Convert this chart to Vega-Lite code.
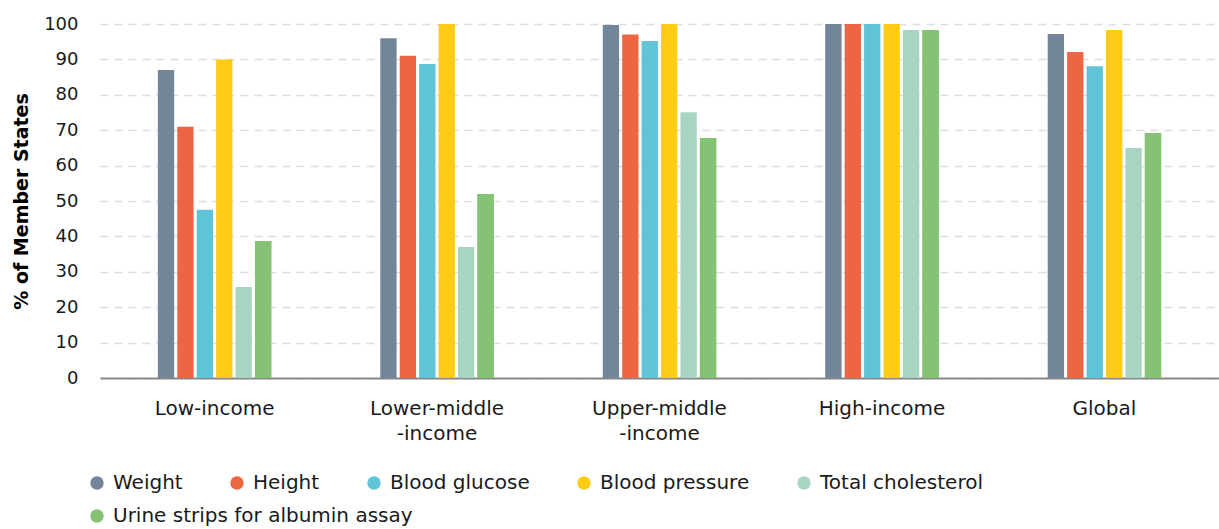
{
  "$schema": "https://vega.github.io/schema/vega-lite/v6.json",
  "width": 1119,
  "height": 354,
  "autosize": {"type": "none"},
  "padding": {"left": 100, "top": 24, "right": 0, "bottom": 151},
  "background": "white",
  "config": {
    "font": "DejaVu Sans",
    "view": {"stroke": null},
    "axis": {"labelColor": "#1a1a1a", "titleColor": "#000000"},
    "legend": {"padding": 0}
  },
  "data": {
    "values": [
      {"group": "Low-income", "measure": "Weight", "value": 87},
      {"group": "Low-income", "measure": "Height", "value": 71},
      {"group": "Low-income", "measure": "Blood glucose", "value": 47.5},
      {"group": "Low-income", "measure": "Blood pressure", "value": 90},
      {"group": "Low-income", "measure": "Total cholesterol", "value": 25.7},
      {"group": "Low-income", "measure": "Urine strips for albumin assay", "value": 38.7},
      {"group": "Lower-middle-income", "measure": "Weight", "value": 96},
      {"group": "Lower-middle-income", "measure": "Height", "value": 91},
      {"group": "Lower-middle-income", "measure": "Blood glucose", "value": 88.7},
      {"group": "Lower-middle-income", "measure": "Blood pressure", "value": 100},
      {"group": "Lower-middle-income", "measure": "Total cholesterol", "value": 37},
      {"group": "Lower-middle-income", "measure": "Urine strips for albumin assay", "value": 52},
      {"group": "Upper-middle-income", "measure": "Weight", "value": 99.7},
      {"group": "Upper-middle-income", "measure": "Height", "value": 97},
      {"group": "Upper-middle-income", "measure": "Blood glucose", "value": 95.2},
      {"group": "Upper-middle-income", "measure": "Blood pressure", "value": 100},
      {"group": "Upper-middle-income", "measure": "Total cholesterol", "value": 75.1},
      {"group": "Upper-middle-income", "measure": "Urine strips for albumin assay", "value": 67.8},
      {"group": "High-income", "measure": "Weight", "value": 100},
      {"group": "High-income", "measure": "Height", "value": 100},
      {"group": "High-income", "measure": "Blood glucose", "value": 100},
      {"group": "High-income", "measure": "Blood pressure", "value": 100},
      {"group": "High-income", "measure": "Total cholesterol", "value": 98.3},
      {"group": "High-income", "measure": "Urine strips for albumin assay", "value": 98.3},
      {"group": "Global", "measure": "Weight", "value": 97.2},
      {"group": "Global", "measure": "Height", "value": 92.1},
      {"group": "Global", "measure": "Blood glucose", "value": 88.1},
      {"group": "Global", "measure": "Blood pressure", "value": 98.3},
      {"group": "Global", "measure": "Total cholesterol", "value": 65},
      {"group": "Global", "measure": "Urine strips for albumin assay", "value": 69.2}
    ]
  },
  "encoding": {
    "x": {
      "field": "group",
      "type": "nominal",
      "sort": null,
      "scale": {"paddingInner": 0.49, "paddingOuter": 0.26},
      "axis": {
        "title": null,
        "labelAngle": 0,
        "labelFontSize": 20,
        "labelPadding": 20,
        "labelLineHeight": 25,
        "labelBaseline": "top",
        "ticks": false,
        "domainColor": "#888888",
        "domainWidth": 2,
        "labelExpr": "datum.label == 'Lower-middle-income' ? ['Lower-middle', '-income'] : datum.label == 'Upper-middle-income' ? ['Upper-middle', '-income'] : datum.label"
      }
    },
    "xOffset": {
      "field": "measure",
      "type": "nominal",
      "sort": null,
      "scale": {
        "domain": ["Weight", "Height", "Blood glucose", "Blood pressure", "Total cholesterol", "Urine strips for albumin assay"],
        "paddingInner": 0.16,
        "paddingOuter": 0
      }
    },
    "y": {
      "field": "value",
      "type": "quantitative",
      "scale": {"domain": [0, 100], "nice": false},
      "axis": {
        "title": "% of Member States",
        "titleFontSize": 19,
        "titleFontWeight": "bold",
        "titlePadding": 12,
        "values": [0, 10, 20, 30, 40, 50, 60, 70, 80, 90, 100],
        "labelFontSize": 18,
        "labelPadding": 22,
        "ticks": false,
        "domain": false,
        "gridColor": "#dddddd",
        "gridDash": [8, 6],
        "gridWidth": 1.5
      }
    }
  },
  "layer": [
    {
      "mark": {"type": "bar"},
      "encoding": {
        "color": {
          "field": "measure",
          "type": "nominal",
          "sort": null,
          "scale": {
            "domain": ["Weight", "Height", "Blood glucose", "Blood pressure", "Total cholesterol", "Urine strips for albumin assay"],
            "range": ["#738599", "#EC6644", "#60C3D8", "#FECC17", "#A8D5C2", "#85C274"]
          },
          "legend": {
            "title": null,
            "orient": "none",
            "legendX": -13,
            "legendY": 449,
            "direction": "horizontal",
            "values": ["Weight", "Height", "Blood glucose", "Blood pressure", "Total cholesterol"],
            "columnPadding": 44,
            "symbolType": "circle",
            "symbolSize": 180,
            "symbolStrokeWidth": 0,
            "labelFontSize": 20,
            "labelColor": "#1a1a1a",
            "labelOffset": 6,
            "labelLimit": 400
          }
        }
      }
    },
    {
      "transform": [{"filter": "datum.measure == 'Urine strips for albumin assay'"}],
      "mark": {"type": "bar"},
      "encoding": {
        "fill": {
          "field": "measure",
          "type": "nominal",
          "scale": {
            "domain": ["Urine strips for albumin assay"],
            "range": ["#85C274"]
          },
          "legend": {
            "title": null,
            "orient": "none",
            "legendX": -13,
            "legendY": 482,
            "direction": "horizontal",
            "symbolType": "circle",
            "symbolSize": 180,
            "symbolStrokeWidth": 0,
            "labelFontSize": 20,
            "labelColor": "#1a1a1a",
            "labelOffset": 6,
            "labelLimit": 400
          }
        }
      }
    }
  ]
}
